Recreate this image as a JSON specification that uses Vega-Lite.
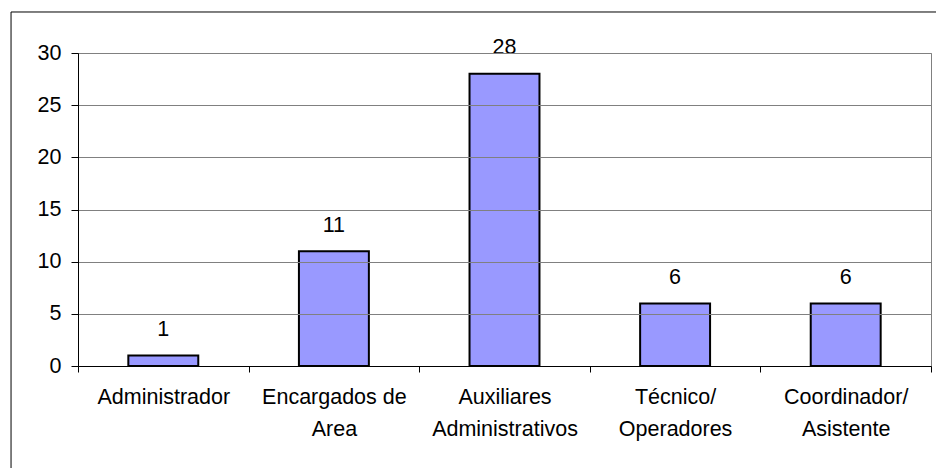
{
  "$schema": "https://vega.github.io/schema/vega-lite/v6.json",
  "width": 853,
  "height": 313,
  "autosize": "none",
  "padding": {"left": 78, "top": 53, "right": 5, "bottom": 102},
  "background": "white",
  "config": {
    "view": {"stroke": "#808080", "strokeWidth": 1},
    "font": "Liberation Sans"
  },
  "resolve": {"scale": {"x": "independent"}},
  "layer": [
    {
      "data": {
        "values": [
          {"cargo": "Administrador", "n": 1},
          {"cargo": "Encargados de\nArea", "n": 11},
          {"cargo": "Auxiliares\nAdministrativos", "n": 28},
          {"cargo": "Técnico/\nOperadores", "n": 6},
          {"cargo": "Coordinador/\nAsistente", "n": 6}
        ]
      },
      "encoding": {
        "x": {
          "field": "cargo",
          "type": "nominal",
          "sort": null,
          "scale": {"paddingInner": 0, "paddingOuter": 0},
          "axis": {
            "title": null,
            "labelAngle": 0,
            "labelExpr": "split(datum.label, '\\n')",
            "labelFontSize": 21.5,
            "labelColor": "black",
            "labelLineHeight": 32,
            "labelBaseline": "top",
            "labelPadding": 14,
            "labelLimit": 300,
            "tickBand": "extent",
            "tickSize": 6,
            "tickColor": "black",
            "domainColor": "black",
            "grid": false,
            "zindex": 2
          }
        },
        "y": {
          "field": "n",
          "type": "quantitative",
          "scale": {"domain": [0, 30], "nice": false, "zero": true},
          "axis": {
            "title": null,
            "values": [0, 5, 10, 15, 20, 25, 30],
            "labelFontSize": 21.5,
            "labelColor": "black",
            "labelPadding": 10,
            "tickSize": 7,
            "tickColor": "black",
            "domainColor": "black",
            "grid": true,
            "gridColor": "#808080",
            "gridWidth": 1,
            "zindex": 1
          }
        }
      },
      "layer": [
        {
          "mark": {
            "type": "bar",
            "fill": "#9999FF",
            "stroke": "black",
            "strokeWidth": 2,
            "width": {"band": 0.41}
          }
        },
        {
          "mark": {
            "type": "text",
            "baseline": "alphabetic",
            "dy": -19.5,
            "fontSize": 21.5,
            "color": "black"
          },
          "encoding": {"text": {"field": "n", "type": "quantitative"}}
        }
      ]
    },
    {
      "data": {"values": [{}]},
      "layer": [
        {
          "mark": {"type": "rule", "color": "black", "strokeWidth": 1, "clip": false},
          "encoding": {
            "x": {"datum": -0.0785, "type": "quantitative", "scale": {"domain": [0, 1], "nice": false, "zero": false}, "axis": null},
            "x2": {"datum": 1.1},
            "y": {"datum": 33.93, "type": "quantitative"}
          }
        },
        {
          "mark": {"type": "rule", "color": "black", "strokeWidth": 1, "clip": false},
          "encoding": {
            "x": {"datum": -0.0785, "type": "quantitative", "axis": null},
            "y": {"datum": 33.93, "type": "quantitative"},
            "y2": {"datum": -12}
          }
        }
      ]
    }
  ]
}
